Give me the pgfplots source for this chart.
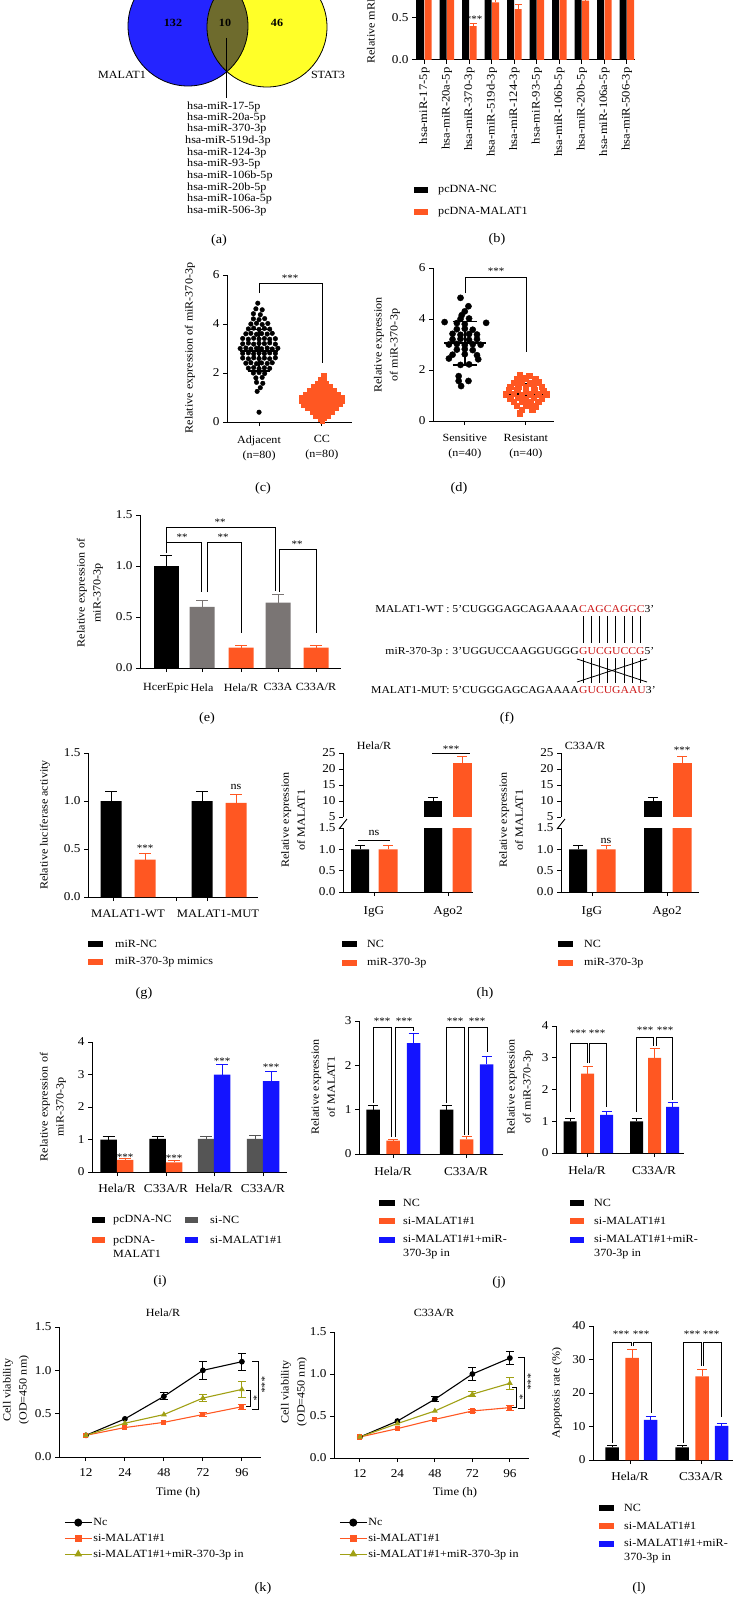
\documentclass[border=0pt]{standalone}
\usepackage{pgfplots}
\pgfplotsset{compat=1.18}
\usepackage{fontspec}
\setmainfont{Liberation Serif}[FakeStretch=1.1]
\definecolor{mor}{RGB}{255,87,34}
\definecolor{mbl}{RGB}{20,20,255}
\definecolor{mge}{RGB}{122,117,116}
\definecolor{mgi}{RGB}{85,85,85}
\definecolor{mol}{RGB}{160,160,20}
\definecolor{vbl}{RGB}{36,36,255}
\definecolor{vye}{RGB}{255,255,40}
\definecolor{vol}{RGB}{110,107,45}
\definecolor{mred}{RGB}{205,25,25}
\newcommand{\fs}[1]{\fontsize{#1}{#1}\selectfont}
\newcommand{\brk}[5]{\draw[line width=0.9pt] (#1pt,-#4pt) -- (#1pt,-#3pt) -- (#2pt,-#3pt) -- (#2pt,-#5pt);}
\newcommand{\sig}[3]{\node[font=\fs{10}, inner sep=0pt] at (#1pt,-#2pt) {#3};}
\newcommand{\plab}[3]{\node[font=\fs{13}] at (#1pt,-#2pt) {#3};}
\newcommand{\sw}[4]{\fill[#4] (#1pt,-#3pt+3pt) rectangle (#2pt,-#3pt-3pt);}
\newcommand{\lt}[3]{\node[font=\fs{11}, anchor=west, inner sep=0pt] at (#1pt,-#2pt) {#3};}
\newcommand{\ltt}[3]{\node[font=\fontsize{11}{14}\selectfont, anchor=west, align=left, inner sep=0pt] at (#1pt,-#2pt) {#3};}
\newcommand{\ylab}[3]{\node[font=\fontsize{11}{16}\selectfont, rotate=90, align=center, inner sep=0pt] at (#1pt,-#2pt) {#3};}
\pgfplotsset{
  gp/.style={scale only axis, axis x line*=bottom, axis y line*=left,
    axis line style={line width=1pt}, tick style={line width=1pt, black},
    major tick length=4pt, tick align=outside,
    tick label style={font=\fs{12}},
    /pgf/number format/assume math mode=true, clip=false},
  gbar/.style={ybar, bar shift=0pt, bar width=#1, draw=none},
  eb/.style 2 args={error bars/.cd, y dir=plus, y explicit,
    error bar style={draw=#1, line width=1pt},
    error mark options={draw=#1, line width=1pt, mark size=#2, rotate=90}},
  ebb/.style 2 args={error bars/.cd, y dir=both, y explicit,
    error bar style={draw=#1, line width=1pt},
    error mark options={draw=#1, line width=1pt, mark size=#2, rotate=90}},
  kleg/.style={legend image code/.code={\draw[mark repeat=2,mark phase=2,##1,mark options={scale=1.5}] plot coordinates {(0pt,0pt) (13.5pt,0pt) (27pt,0pt)};}},
}
\begin{document}
\begin{tikzpicture}
\path[use as bounding box] (0pt,0pt) rectangle (734pt,-1597pt);
\clip (0pt,0pt) rectangle (734pt,-1597pt);

% ---------------- (a) Venn
\fill[vbl] (188pt,-26pt) circle (60pt);
\fill[vye] (267pt,-27pt) circle (60pt);
\begin{scope}
\clip (188pt,-26pt) circle (60pt);
\fill[vol] (267pt,-27pt) circle (60pt);
\end{scope}
\draw[line width=0.8pt] (188pt,-26pt) circle (60pt);
\draw[line width=0.8pt] (267pt,-27pt) circle (60pt);
\node[font=\bfseries\fs{11}] at (173pt,-23pt) {132};
\node[font=\bfseries\fs{11}] at (225pt,-23pt) {10};
\node[font=\bfseries\fs{11}] at (277pt,-23pt) {46};
\node[font=\fs{11}] at (122pt,-75pt) {MALAT1};
\node[font=\fs{11}] at (328pt,-75pt) {STAT3};
\draw[line width=0.8pt] (226pt,-38pt) -- (226pt,-98pt);
\lt{187}{107}{hsa-miR-17-5p}
\lt{187}{118}{hsa-miR-20a-5p}
\lt{187}{129}{hsa-miR-370-3p}
\lt{185}{141}{hsa-miR-519d-3p}
\lt{187}{153}{hsa-miR-124-3p}
\lt{187}{164}{hsa-miR-93-5p}
\lt{187}{176}{hsa-miR-106b-5p}
\lt{187}{188}{hsa-miR-20b-5p}
\lt{187}{199}{hsa-miR-106a-5p}
\lt{187}{211}{hsa-miR-506-3p}
\plab{219}{240}{(a)}

% ---------------- (b)
\begin{axis}[gp, at={(416pt,-60pt)}, anchor=south west, width=219pt, height=127pt,
  xmin=416, xmax=635, ymin=0, ymax=1.5,
  ytick={0,0.5}, yticklabels={0.0,0.5},
  xtick={424.3,446.8,469.3,491.8,514.3,536.8,559.3,581.8,604.3,626.8},
  xticklabels={hsa-miR-17-5p,hsa-miR-20a-5p,hsa-miR-370-3p,hsa-miR-519d-3p,hsa-miR-124-3p,hsa-miR-93-5p,hsa-miR-106b-5p,hsa-miR-20b-5p,hsa-miR-106a-5p,hsa-miR-506-3p},
  xticklabel style={rotate=90, anchor=east, font=\fs{11.5}}]
\addplot[gbar=7pt, fill=black, eb={black}{3.5pt}] coordinates {(420.6,1.0)+-(0,0.08) (443.1,1.0)+-(0,0.08) (465.6,1.0)+-(0,0.08) (488.1,1.0)+-(0,0.08) (510.6,1.0)+-(0,0.08) (533.1,1.0)+-(0,0.08) (555.6,1.0)+-(0,0.08) (578.1,1.0)+-(0,0.08) (600.6,1.0)+-(0,0.08) (623.1,1.0)+-(0,0.08)};
\addplot[gbar=7pt, fill=mor, eb={mor}{3.5pt}] coordinates {(428,0.95)+-(0,0.05) (450.5,0.92)+-(0,0.05) (473,0.40)+-(0,0.03) (495.5,0.68)+-(0,0.05) (518,0.60)+-(0,0.05) (540.5,0.98)+-(0,0.05) (563,0.95)+-(0,0.05) (585.5,0.70)+-(0,0.05) (608,0.97)+-(0,0.05) (630.5,1.0)+-(0,0.05)};
\end{axis}
\sig{474}{19}{***}
\ylab{372}{-3}{Relative mRNA expression}
\sw{414}{428}{190}{black}\lt{438}{190}{pcDNA-NC}
\sw{414}{428}{212}{mor}\lt{438}{212}{pcDNA-MALAT1}
\plab{497}{239}{(b)}

% ---------------- (c)
\begin{axis}[gp, at={(227pt,-422pt)}, anchor=south west, width=125pt, height=147pt,
  xmin=-0.51, xmax=1.48, ymin=0, ymax=6, ytick={0,2,4,6},
  xtick={0,1}, xticklabels={{Adjacent\\(n=80)},{CC\\(n=80)}},
  xticklabel style={align=center, font=\fontsize{11}{15}\selectfont, yshift=-6pt}]
\addplot[only marks, mark=*, mark size=2.3pt, black] coordinates {
(-0.02,4.85) (-0.05,4.62) (0.05,4.58) (-0.09,4.42) (0.02,4.38)
(-0.09,4.21) (0.0,4.18) (0.09,4.22)
(-0.13,4.0) (-0.04,4.03) (0.05,3.98) (0.14,4.02)
(-0.17,3.8) (-0.085,3.83) (0.0,3.78) (0.085,3.82) (0.17,3.79)
(-0.21,3.6) (-0.13,3.62) (-0.04,3.58) (0.04,3.61) (0.13,3.59) (0.21,3.62)
(-0.26,3.41) (-0.17,3.38) (-0.085,3.42) (0,3.39) (0.085,3.41) (0.17,3.38) (0.26,3.4)
(-0.26,3.19) (-0.17,3.22) (-0.085,3.18) (0.0,3.21) (0.085,3.2) (0.17,3.23) (0.26,3.18)
(-0.30,3.0) (-0.21,3.02) (-0.13,2.98) (-0.04,3.01) (0.04,2.99) (0.13,3.02) (0.21,2.98) (0.30,3.01)
(-0.26,2.8) (-0.17,2.82) (-0.085,2.78) (0,2.81) (0.085,2.79) (0.17,2.82) (0.26,2.8)
(-0.26,2.61) (-0.17,2.58) (-0.085,2.62) (0,2.59) (0.085,2.61) (0.17,2.58) (0.26,2.62)
(-0.21,2.4) (-0.13,2.42) (-0.04,2.38) (0.04,2.41) (0.13,2.39) (0.21,2.42)
(-0.17,2.2) (-0.085,2.22) (0,2.18) (0.085,2.21) (0.17,2.19)
(-0.09,2.0) (0,2.02) (0.09,1.98) (-0.05,1.8) (0.05,1.82)
(-0.04,1.62) (0.06,1.58) (0.02,1.4) (-0.03,1.25) (0,0.4)};
\addplot[only marks, mark=square*, mark size=2.1pt, mor] coordinates {
(1.03,1.9) (0.97,1.76) (1.04,1.74) (0.935,1.6) (1.0,1.62) (1.065,1.59)
(0.87,1.45) (0.935,1.47) (1.0,1.43) (1.065,1.46) (1.13,1.44)
(0.805,1.3) (0.87,1.32) (0.935,1.28) (1.0,1.31) (1.065,1.29) (1.13,1.32) (1.195,1.3)
(0.74,1.15) (0.805,1.17) (0.87,1.13) (0.935,1.16) (1.0,1.14) (1.065,1.17) (1.13,1.13) (1.195,1.16) (1.26,1.15)
(0.675,1.0) (0.74,1.02) (0.805,0.98) (0.87,1.01) (0.935,0.99) (1.0,1.02) (1.065,0.98) (1.13,1.01) (1.195,0.99) (1.26,1.02) (1.325,1.0)
(0.675,0.85) (0.74,0.87) (0.805,0.83) (0.87,0.86) (0.935,0.84) (1.0,0.87) (1.065,0.83) (1.13,0.86) (1.195,0.84) (1.26,0.87) (1.325,0.85)
(0.71,0.7) (0.775,0.72) (0.84,0.68) (0.905,0.71) (0.97,0.69) (1.035,0.72) (1.1,0.68) (1.165,0.71) (1.23,0.69) (1.295,0.72)
(0.77,0.55) (0.835,0.57) (0.9,0.53) (0.965,0.56) (1.03,0.54) (1.095,0.57) (1.16,0.53) (1.225,0.56)
(0.84,0.4) (0.905,0.42) (0.97,0.38) (1.035,0.41) (1.1,0.39) (1.165,0.42)
(0.9,0.25) (0.965,0.27) (1.03,0.23) (1.095,0.26) (0.97,0.12) (1.04,0.14) (1.0,0.04)};
\addplot[black, line width=1.6pt, unbounded coords=jump] coordinates {
(-0.3,2.9) (0.3,2.9) (nan,nan) (0,2.08) (0,3.78) (nan,nan) (-0.17,2.08) (0.17,2.08) (nan,nan) (-0.17,3.78) (0.17,3.78) (nan,nan)
(0.67,0.92) (1.33,0.92) (nan,nan) (1,0.53) (1,1.28) (nan,nan) (0.83,0.53) (1.17,0.53) (nan,nan) (0.83,1.28) (1.17,1.28)};
\end{axis}
\brk{259}{322}{283}{293}{363}
\sig{290}{278}{***}
\ylab{190}{348}{Relative expression of miR-370-3p}
\plab{263}{488}{(c)}

% ---------------- (d)
\begin{axis}[gp, at={(433pt,-421pt)}, anchor=south west, width=121pt, height=153pt,
  xmin=-0.52, xmax=1.46, ymin=0, ymax=6, ytick={0,2,4,6},
  xtick={0,1}, xticklabels={{Sensitive\\(n=40)},{Resistant\\(n=40)}},
  xticklabel style={align=center, font=\fontsize{11}{15}\selectfont, yshift=-6pt}]
\addplot[only marks, mark=*, mark size=3.1pt, black] coordinates {
(-0.07,4.83) (0.06,4.5) (0.0,4.3) (-0.05,4.15) (-0.07,4.0) (0.07,4.02)
(-0.33,3.88) (-0.13,3.84) (0.0,3.8) (0.35,3.85)
(-0.13,3.6) (0,3.62) (0.13,3.58)
(-0.2,3.42) (-0.07,3.38) (0.07,3.41) (0.2,3.39)
(-0.2,3.2) (-0.07,3.22) (0.07,3.18) (0.2,3.21)
(-0.26,3.0) (-0.13,3.02) (0,2.98) (0.13,3.01) (0.26,2.99)
(-0.13,2.8) (0,2.82) (0.13,2.78) (-0.2,2.6) (0,2.62) (0.2,2.58)
(-0.26,2.45) (0.22,2.42) (-0.07,2.2) (0.07,2.22)
(-0.1,1.76) (-0.1,1.57) (0.06,1.57) (-0.06,1.37)};
\addplot[only marks, mark=square*, mark size=2.8pt, mor] coordinates {
(0.9,1.8) (1.05,1.78) (0.85,1.65) (1.0,1.67) (1.15,1.63)
(0.8,1.5) (0.93,1.52) (1.07,1.48) (1.2,1.51)
(0.74,1.35) (0.87,1.37) (1.0,1.33) (1.13,1.36) (1.26,1.34)
(0.72,1.2) (0.86,1.22) (1.0,1.18) (1.14,1.21) (1.28,1.19)
(0.67,1.05) (0.8,1.07) (0.93,1.03) (1.07,1.06) (1.2,1.04) (1.33,1.06)
(0.74,0.9) (0.87,0.92) (1.0,0.88) (1.13,0.91) (1.26,0.89)
(0.8,0.75) (0.93,0.77) (1.07,0.73) (1.2,0.76)
(0.85,0.6) (1.0,0.62) (1.15,0.58) (0.93,0.45) (1.1,0.47) (0.9,0.3)};
\addplot[black, line width=1.6pt, unbounded coords=jump] coordinates {
(-0.34,3.06) (0.34,3.06) (nan,nan) (0,2.2) (0,3.9) (nan,nan) (-0.2,2.2) (0.2,2.2) (nan,nan) (-0.2,3.9) (0.2,3.9) (nan,nan)
(0.67,1.05) (1.33,1.05) (nan,nan) (1,0.67) (1,1.45) (nan,nan) (0.82,0.67) (1.18,0.67) (nan,nan) (0.82,1.45) (1.18,1.45)};
\end{axis}
\brk{465}{526}{277}{293}{352}
\sig{496}{271}{***}
\ylab{387}{345}{Relative expression\\of miR-370-3p}
\plab{459}{488}{(d)}

% ---------------- (e)
\begin{axis}[gp, at={(140pt,-668pt)}, anchor=south west, width=201pt, height=153pt,
  xmin=140, xmax=341, ymin=0, ymax=1.5,
  ytick={0,0.5,1,1.5}, yticklabels={0.0,0.5,1.0,1.5},
  xtick={166,202,241,278,316}, xticklabels={HcerEpic,Hela,Hela/R,C33A,C33A/R},
  xticklabel style={font=\fs{11}, yshift=-8pt}]
\addplot[gbar=25pt, fill=black, eb={black}{6pt}] coordinates {(166,1.0)+-(0,0.1)};
\addplot[gbar=25pt, fill=mge, eb={mge}{6pt}] coordinates {(202,0.6)+-(0,0.06) (278,0.64)+-(0,0.08)};
\addplot[gbar=25pt, fill=mor, eb={mor}{6pt}] coordinates {(241,0.2)+-(0,0.02) (316,0.2)+-(0,0.02)};
\end{axis}
\brk{166}{275}{527}{542}{591}
\brk{166}{201}{542}{553}{592}
\brk{207}{241}{542}{592}{633}
\brk{279}{316}{549}{592}{633}
\sig{220}{522}{**}\sig{182}{537}{**}\sig{223}{537}{**}\sig{297}{544}{**}
\ylab{90}{593}{Relative expression of\\miR-370-3p}
\plab{207}{718}{(e)}

% ---------------- (f)
\node[anchor=base east, inner sep=0pt, font=\fs{10.6}] at (579pt,-612pt) {MALAT1-WT : 5'CUGGGAGCAGAAAA};
\node[anchor=base west, inner sep=0pt, font=\fs{10.6}] at (579pt,-612pt) {\textcolor{mred}{CAGCAGGC}3'};
\node[anchor=base east, inner sep=0pt, font=\fs{10.6}] at (579pt,-654pt) {miR-370-3p : 3'UGGUCCAAGGUGGG};
\node[anchor=base west, inner sep=0pt, font=\fs{10.6}] at (579pt,-654pt) {\textcolor{mred}{GUCGUCCG}5'};
\node[anchor=base east, inner sep=0pt, font=\fs{10.6}] at (579pt,-693pt) {MALAT1-MUT: 5'CUGGGAGCAGAAAA};
\node[anchor=base west, inner sep=0pt, font=\fs{10.6}] at (579pt,-693pt) {\textcolor{mred}{GUCUGAAU}3'};
\foreach \x in {582.9,591,599.4,607.5,615.7,624.1,632.5,640.6}{
  \draw[line width=0.8pt] (\x pt,-616pt) -- (\x pt,-643pt);
  \draw[line width=0.8pt] (\x pt,-658pt) -- (\x pt,-683pt);}
\draw[line width=0.8pt] (577pt,-659pt) -- (647pt,-682pt);
\draw[line width=0.8pt] (577pt,-682pt) -- (647pt,-659pt);
\plab{507}{718}{(f)}

% ---------------- (g)
\begin{axis}[gp, at={(88pt,-897pt)}, anchor=south west, width=170pt, height=144pt,
  xmin=88, xmax=258, ymin=0, ymax=1.5,
  ytick={0,0.5,1,1.5}, yticklabels={0.0,0.5,1.0,1.5},
  xtick={113,176,207}, xticklabels={}]
\addplot[gbar=21pt, fill=black, eb={black}{6pt}] coordinates {(111,1.0)+-(0,0.1) (202,1.0)+-(0,0.1)};
\addplot[gbar=21pt, fill=mor, eb={mor}{6pt}] coordinates {(145,0.39)+-(0,0.06) (236,0.98)+-(0,0.09)};
\end{axis}
\node[font=\fs{11.5}] at (128pt,-914pt) {MALAT1-WT};
\node[font=\fs{11.5}] at (218pt,-914pt) {MALAT1-MUT};
\sig{145}{848}{***}
\node[font=\fs{11}] at (236pt,-787pt) {ns};
\ylab{45}{825}{Relative luciferase activity}
\sw{88}{103}{944}{black}\lt{115}{944}{miR-NC}
\sw{88}{103}{962}{mor}\lt{115}{962}{miR-370-3p mimics}
\plab{144}{993}{(g)}

% ---------------- (h) left
\begin{axis}[gp, at={(343pt,-892pt)}, anchor=south west, width=130pt, height=64pt,
  xmin=343, xmax=473, ymin=0, ymax=1.5, clip=true, clip mode=individual,
  ytick={0,0.5,1,1.5}, yticklabels={0.0,0.5,1.0,1.5},
  xtick={374,448}, xticklabels={IgG,Ago2}, xticklabel style={yshift=-7pt}]
\addplot[gbar=18pt, fill=black, eb={black}{5pt}] coordinates {(360,1.0)+-(0,0.1) (433,10)+-(0,1.2)};
\addplot[gbar=19pt, fill=mor, eb={mor}{5pt}] coordinates {(388,1.0)+-(0,0.1) (462,22)+-(0,2)};
\end{axis}
\begin{axis}[gp, at={(343pt,-817pt)}, anchor=south west, width=130pt, height=64pt,
  xmin=343, xmax=473, ymin=5, ymax=25, clip=true, clip mode=individual,
  axis x line=none, ytick={5,10,15,20,25}]
\addplot[gbar=18pt, fill=black, eb={black}{5pt}] coordinates {(433,10)+-(0,1.2)};
\addplot[gbar=19pt, fill=mor, eb={mor}{5pt}] coordinates {(462,22)+-(0,2)};
\end{axis}
\draw[line width=0.9pt] (339pt,-829pt) -- (347pt,-819pt);
\draw[line width=0.9pt] (358pt,-840pt) -- (390pt,-840pt);
\node[font=\fs{11}] at (374pt,-833pt) {ns};
\draw[line width=0.9pt] (432pt,-753pt) -- (470pt,-753pt);
\sig{451}{749}{***}
\node[font=\fs{11}] at (374pt,-746pt) {Hela/R};
\ylab{293}{820}{Relative expression\\of MALAT1}
\sw{342}{357}{944}{black}\lt{367}{944}{NC}
\sw{342}{357}{963}{mor}\lt{367}{963}{miR-370-3p}

% ---------------- (h) right
\begin{axis}[gp, at={(561pt,-892pt)}, anchor=south west, width=138pt, height=64pt,
  xmin=561, xmax=699, ymin=0, ymax=1.5, clip=true, clip mode=individual,
  ytick={0,0.5,1,1.5}, yticklabels={0.0,0.5,1.0,1.5},
  xtick={592,667}, xticklabels={IgG,Ago2}, xticklabel style={yshift=-7pt}]
\addplot[gbar=18pt, fill=black, eb={black}{5pt}] coordinates {(578,1.0)+-(0,0.1) (653,10)+-(0,1.2)};
\addplot[gbar=19pt, fill=mor, eb={mor}{5pt}] coordinates {(606,1.0)+-(0,0.1) (682,22)+-(0,2)};
\end{axis}
\begin{axis}[gp, at={(561pt,-817pt)}, anchor=south west, width=138pt, height=64pt,
  xmin=561, xmax=699, ymin=5, ymax=25, clip=true, clip mode=individual,
  axis x line=none, ytick={5,10,15,20,25}]
\addplot[gbar=18pt, fill=black, eb={black}{5pt}] coordinates {(653,10)+-(0,1.2)};
\addplot[gbar=19pt, fill=mor, eb={mor}{5pt}] coordinates {(682,22)+-(0,2)};
\end{axis}
\draw[line width=0.9pt] (557pt,-829pt) -- (565pt,-819pt);
\node[font=\fs{11}] at (606pt,-841pt) {ns};
\sig{682}{750}{***}
\node[font=\fs{11}] at (585pt,-746pt) {C33A/R};
\ylab{511}{820}{Relative expression\\of MALAT1}
\sw{558}{573}{944}{black}\lt{584}{944}{NC}
\sw{558}{573}{963}{mor}\lt{584}{963}{miR-370-3p}
\plab{485}{993}{(h)}

% ---------------- (i)
\begin{axis}[gp, at={(92pt,-1172pt)}, anchor=south west, width=195pt, height=130pt,
  xmin=92, xmax=287, ymin=0, ymax=4, ytick={0,1,2,3,4},
  xtick={117,166,214,263}, xticklabels={Hela/R,C33A/R,Hela/R,C33A/R},
  xticklabel style={yshift=-5pt}]
\addplot[gbar=16.5pt, fill=black, eb={black}{6pt}] coordinates {(108.5,1.0)+-(0,0.1) (157.5,1.02)+-(0,0.08)};
\addplot[gbar=16.5pt, fill=mor, eb={mor}{6pt}] coordinates {(125,0.37)+-(0,0.06) (174,0.3)+-(0,0.06)};
\addplot[gbar=16.5pt, fill=mgi, eb={mgi}{6pt}] coordinates {(206,1.02)+-(0,0.08) (255,1.02)+-(0,0.1)};
\addplot[gbar=16.5pt, fill=mbl, eb={mbl}{6pt}] coordinates {(222,3.0)+-(0,0.3) (271,2.8)+-(0,0.3)};
\end{axis}
\sig{125}{1157}{***}\sig{174}{1158}{***}\sig{222}{1061}{***}\sig{271}{1067}{***}
\ylab{53}{1107}{Relative expression of\\miR-370-3p}
\sw{92}{105}{1220}{black}\lt{113}{1220}{pcDNA-NC}
\sw{92}{105}{1240}{mor}\ltt{113}{1247}{pcDNA-\\MALAT1}
\sw{185}{198}{1220}{mgi}\lt{210}{1220}{si-NC}
\sw{185}{198}{1240}{mbl}\lt{210}{1240}{si-MALAT1\#1}
\plab{160}{1281}{(i)}

% ---------------- (j) left
\begin{axis}[gp, at={(359pt,-1154pt)}, anchor=south west, width=144pt, height=133pt,
  xmin=359, xmax=503, ymin=0, ymax=3, ytick={0,1,2,3},
  xtick={393,466}, xticklabels={Hela/R,C33A/R}, xticklabel style={yshift=-6pt}]
\addplot[gbar=13.5pt, fill=black, eb={black}{5pt}] coordinates {(373,1.0)+-(0,0.1) (446.5,1.0)+-(0,0.1)};
\addplot[gbar=13.5pt, fill=mor, eb={mor}{5pt}] coordinates {(393,0.3)+-(0,0.03) (466.5,0.33)+-(0,0.07)};
\addplot[gbar=13.5pt, fill=mbl, eb={mbl}{5pt}] coordinates {(413.5,2.5)+-(0,0.22) (486.5,2.02)+-(0,0.18)};
\end{axis}
\brk{373}{391}{1027}{1103}{1137}
\brk{395}{413}{1027}{1137}{1031}
\brk{446}{464}{1027}{1103}{1135}
\brk{468}{487}{1027}{1135}{1052}
\sig{382}{1021}{***}\sig{404}{1021}{***}\sig{455}{1021}{***}\sig{477}{1021}{***}
\ylab{323}{1087}{Relative expression\\of MALAT1}
\sw{379}{395}{1203}{black}\lt{403}{1203}{NC}
\sw{379}{395}{1221}{mor}\lt{403}{1221}{si-MALAT1\#1}
\sw{379}{395}{1240}{mbl}\ltt{403}{1247}{si-MALAT1\#1+miR-\\370-3p in}

% ---------------- (j) right
\begin{axis}[gp, at={(556pt,-1153pt)}, anchor=south west, width=128pt, height=127pt,
  xmin=556, xmax=684, ymin=0, ymax=4, ytick={0,1,2,3,4},
  xtick={587,654}, xticklabels={Hela/R,C33A/R}, xticklabel style={yshift=-6pt}]
\addplot[gbar=13pt, fill=black, eb={black}{5pt}] coordinates {(570,1.0)+-(0,0.1) (636.5,1.0)+-(0,0.1)};
\addplot[gbar=13pt, fill=mor, eb={mor}{5pt}] coordinates {(587.5,2.5)+-(0,0.22) (654.5,3.0)+-(0,0.28)};
\addplot[gbar=13pt, fill=mbl, eb={mbl}{5pt}] coordinates {(606.5,1.2)+-(0,0.1) (672.5,1.45)+-(0,0.13)};
\end{axis}
\brk{570}{587}{1043}{1112}{1063}
\brk{589}{606}{1043}{1063}{1107}
\brk{636}{653}{1037}{1112}{1046}
\brk{656}{672}{1037}{1046}{1100}
\sig{578}{1033}{***}\sig{597}{1033}{***}\sig{645}{1030}{***}\sig{665}{1030}{***}
\ylab{520}{1087}{Relative expression\\of miR-370-3p}
\sw{570}{584}{1203}{black}\lt{594}{1203}{NC}
\sw{570}{584}{1221}{mor}\lt{594}{1221}{si-MALAT1\#1}
\sw{570}{584}{1240}{mbl}\ltt{594}{1247}{si-MALAT1\#1+miR-\\370-3p in}
\plab{499}{1282}{(j)}

% ---------------- (k) left
\begin{axis}[gp, at={(59pt,-1457pt)}, anchor=south west, width=202pt, height=130pt,
  xmin=-0.69, xmax=4.49, ymin=0, ymax=1.5,
  ytick={0,0.5,1,1.5}, yticklabels={0.0,0.5,1.0,1.5},
  xtick={0,1,2,3,4}, xticklabels={12,24,48,72,96}, xticklabel style={yshift=-4pt},
  legend style={at={(0,0)}, anchor=north west, xshift=5pt, yshift=-60pt, draw=none, fill=none,
    font=\fs{11}, row sep=5pt, inner sep=0pt, nodes={inner sep=1pt},
    /tikz/every even column/.append style={column sep=6pt}},
  legend cell align=left]
\addplot[kleg, black, line width=1.1pt, mark=*, mark size=2.3pt] coordinates {(0,0.25) (1,0.44) (2,0.70) (3,1.0) (4,1.1)};
\addlegendentry{Nc}
\addplot[kleg, mor, line width=1.1pt, mark=square*, mark size=2pt] coordinates {(0,0.25) (1,0.34) (2,0.40) (3,0.49) (4,0.58)};
\addlegendentry{si-MALAT1\#1}
\addplot[kleg, mol, line width=1.1pt, mark=triangle*, mark size=2.3pt] coordinates {(0,0.25) (1,0.39) (2,0.49) (3,0.68) (4,0.78)};
\addlegendentry{si-MALAT1\#1+miR-370-3p in}
\addplot[draw=none, forget plot, ebb={black}{4pt}] coordinates {(2,0.70)+-(0,0.04) (3,1.0)+-(0,0.1) (4,1.1)+-(0,0.1)};
\addplot[draw=none, forget plot, ebb={mor}{4pt}] coordinates {(3,0.49)+-(0,0.02) (4,0.58)+-(0,0.03)};
\addplot[draw=none, forget plot, ebb={mol}{4pt}] coordinates {(3,0.68)+-(0,0.04) (4,0.78)+-(0,0.09)};
\end{axis}
\draw[line width=0.8pt] (246pt,-1390pt) -- (250pt,-1390pt) -- (250pt,-1406pt) -- (246pt,-1406pt);
\draw[line width=0.8pt] (252pt,-1361pt) -- (258pt,-1361pt) -- (258pt,-1409pt) -- (252pt,-1409pt);
\node[font=\fs{10}, rotate=-90, inner sep=0pt] at (254pt,-1398pt) {*};
\node[font=\fs{10}, rotate=-90, inner sep=0pt] at (262pt,-1385pt) {***};
\node[font=\fs{11}] at (163pt,-1313pt) {Hela/R};
\node[font=\fs{11.5}] at (178pt,-1493pt) {Time (h)};
\ylab{16}{1390}{Cell viability\\(OD=450 nm)}

% ---------------- (k) right
\begin{axis}[gp, at={(334pt,-1458pt)}, anchor=south west, width=195pt, height=126pt,
  xmin=-0.69, xmax=4.51, ymin=0, ymax=1.5,
  ytick={0,0.5,1,1.5}, yticklabels={0.0,0.5,1.0,1.5},
  xtick={0,1,2,3,4}, xticklabels={12,24,48,72,96}, xticklabel style={yshift=-4pt},
  legend style={at={(0,0)}, anchor=north west, xshift=5pt, yshift=-59pt, draw=none, fill=none,
    font=\fs{11}, row sep=5pt, inner sep=0pt, nodes={inner sep=1pt},
    /tikz/every even column/.append style={column sep=6pt}},
  legend cell align=left]
\addplot[kleg, black, line width=1.1pt, mark=*, mark size=2.3pt] coordinates {(0,0.25) (1,0.44) (2,0.70) (3,1.0) (4,1.19)};
\addlegendentry{Nc}
\addplot[kleg, mor, line width=1.1pt, mark=square*, mark size=2pt] coordinates {(0,0.25) (1,0.35) (2,0.46) (3,0.56) (4,0.60)};
\addlegendentry{si-MALAT1\#1}
\addplot[kleg, mol, line width=1.1pt, mark=triangle*, mark size=2.3pt] coordinates {(0,0.25) (1,0.41) (2,0.56) (3,0.76) (4,0.89)};
\addlegendentry{si-MALAT1\#1+miR-370-3p in}
\addplot[draw=none, forget plot, ebb={black}{4pt}] coordinates {(2,0.70)+-(0,0.03) (3,1.0)+-(0,0.08) (4,1.19)+-(0,0.08)};
\addplot[draw=none, forget plot, ebb={mor}{4pt}] coordinates {(3,0.56)+-(0,0.02) (4,0.60)+-(0,0.03)};
\addplot[draw=none, forget plot, ebb={mol}{4pt}] coordinates {(3,0.76)+-(0,0.03) (4,0.89)+-(0,0.07)};
\end{axis}
\draw[line width=0.8pt] (512pt,-1387pt) -- (516pt,-1387pt) -- (516pt,-1407pt) -- (512pt,-1407pt);
\draw[line width=0.8pt] (518pt,-1357pt) -- (524pt,-1357pt) -- (524pt,-1408pt) -- (518pt,-1408pt);
\node[font=\fs{10}, rotate=-90, inner sep=0pt] at (520pt,-1397pt) {*};
\node[font=\fs{10}, rotate=-90, inner sep=0pt] at (528pt,-1382pt) {***};
\node[font=\fs{11}] at (434pt,-1313pt) {C33A/R};
\node[font=\fs{11.5}] at (455pt,-1493pt) {Time (h)};
\ylab{294}{1392}{Cell viability\\(OD=450 nm)}
\plab{263}{1588}{(k)}

% ---------------- (l)
\begin{axis}[gp, at={(593pt,-1460pt)}, anchor=south west, width=140pt, height=134pt,
  xmin=593, xmax=733, ymin=0, ymax=40, ytick={0,10,20,30,40},
  xtick={630,701}, xticklabels={Hela/R,C33A/R}, xticklabel style={yshift=-5pt}]
\addplot[gbar=13.5pt, fill=black, eb={black}{5pt}] coordinates {(612,3.8)+-(0,0.5) (682,3.8)+-(0,0.5)};
\addplot[gbar=13.5pt, fill=mor, eb={mor}{5pt}] coordinates {(632,30.5)+-(0,2.5) (702,25)+-(0,2)};
\addplot[gbar=13.5pt, fill=mbl, eb={mbl}{5pt}] coordinates {(650.5,12)+-(0,1) (721.5,10.2)+-(0,0.8)};
\end{axis}
\brk{612}{631}{1342}{1443}{1346}
\brk{633}{651}{1342}{1346}{1413}
\brk{683}{701}{1342}{1443}{1366}
\brk{703}{721}{1342}{1366}{1417}
\sig{621}{1334}{***}\sig{641}{1334}{***}\sig{692}{1334}{***}\sig{711}{1334}{***}
\ylab{557}{1393}{Apoptosis rate (\%)}
\sw{599}{614}{1508}{black}\lt{624}{1508}{NC}
\sw{599}{614}{1526}{mor}\lt{624}{1526}{si-MALAT1\#1}
\sw{599}{614}{1544}{mbl}\ltt{624}{1551}{si-MALAT1\#1+miR-\\370-3p in}
\plab{639}{1588}{(l)}
\end{tikzpicture}
\end{document}
